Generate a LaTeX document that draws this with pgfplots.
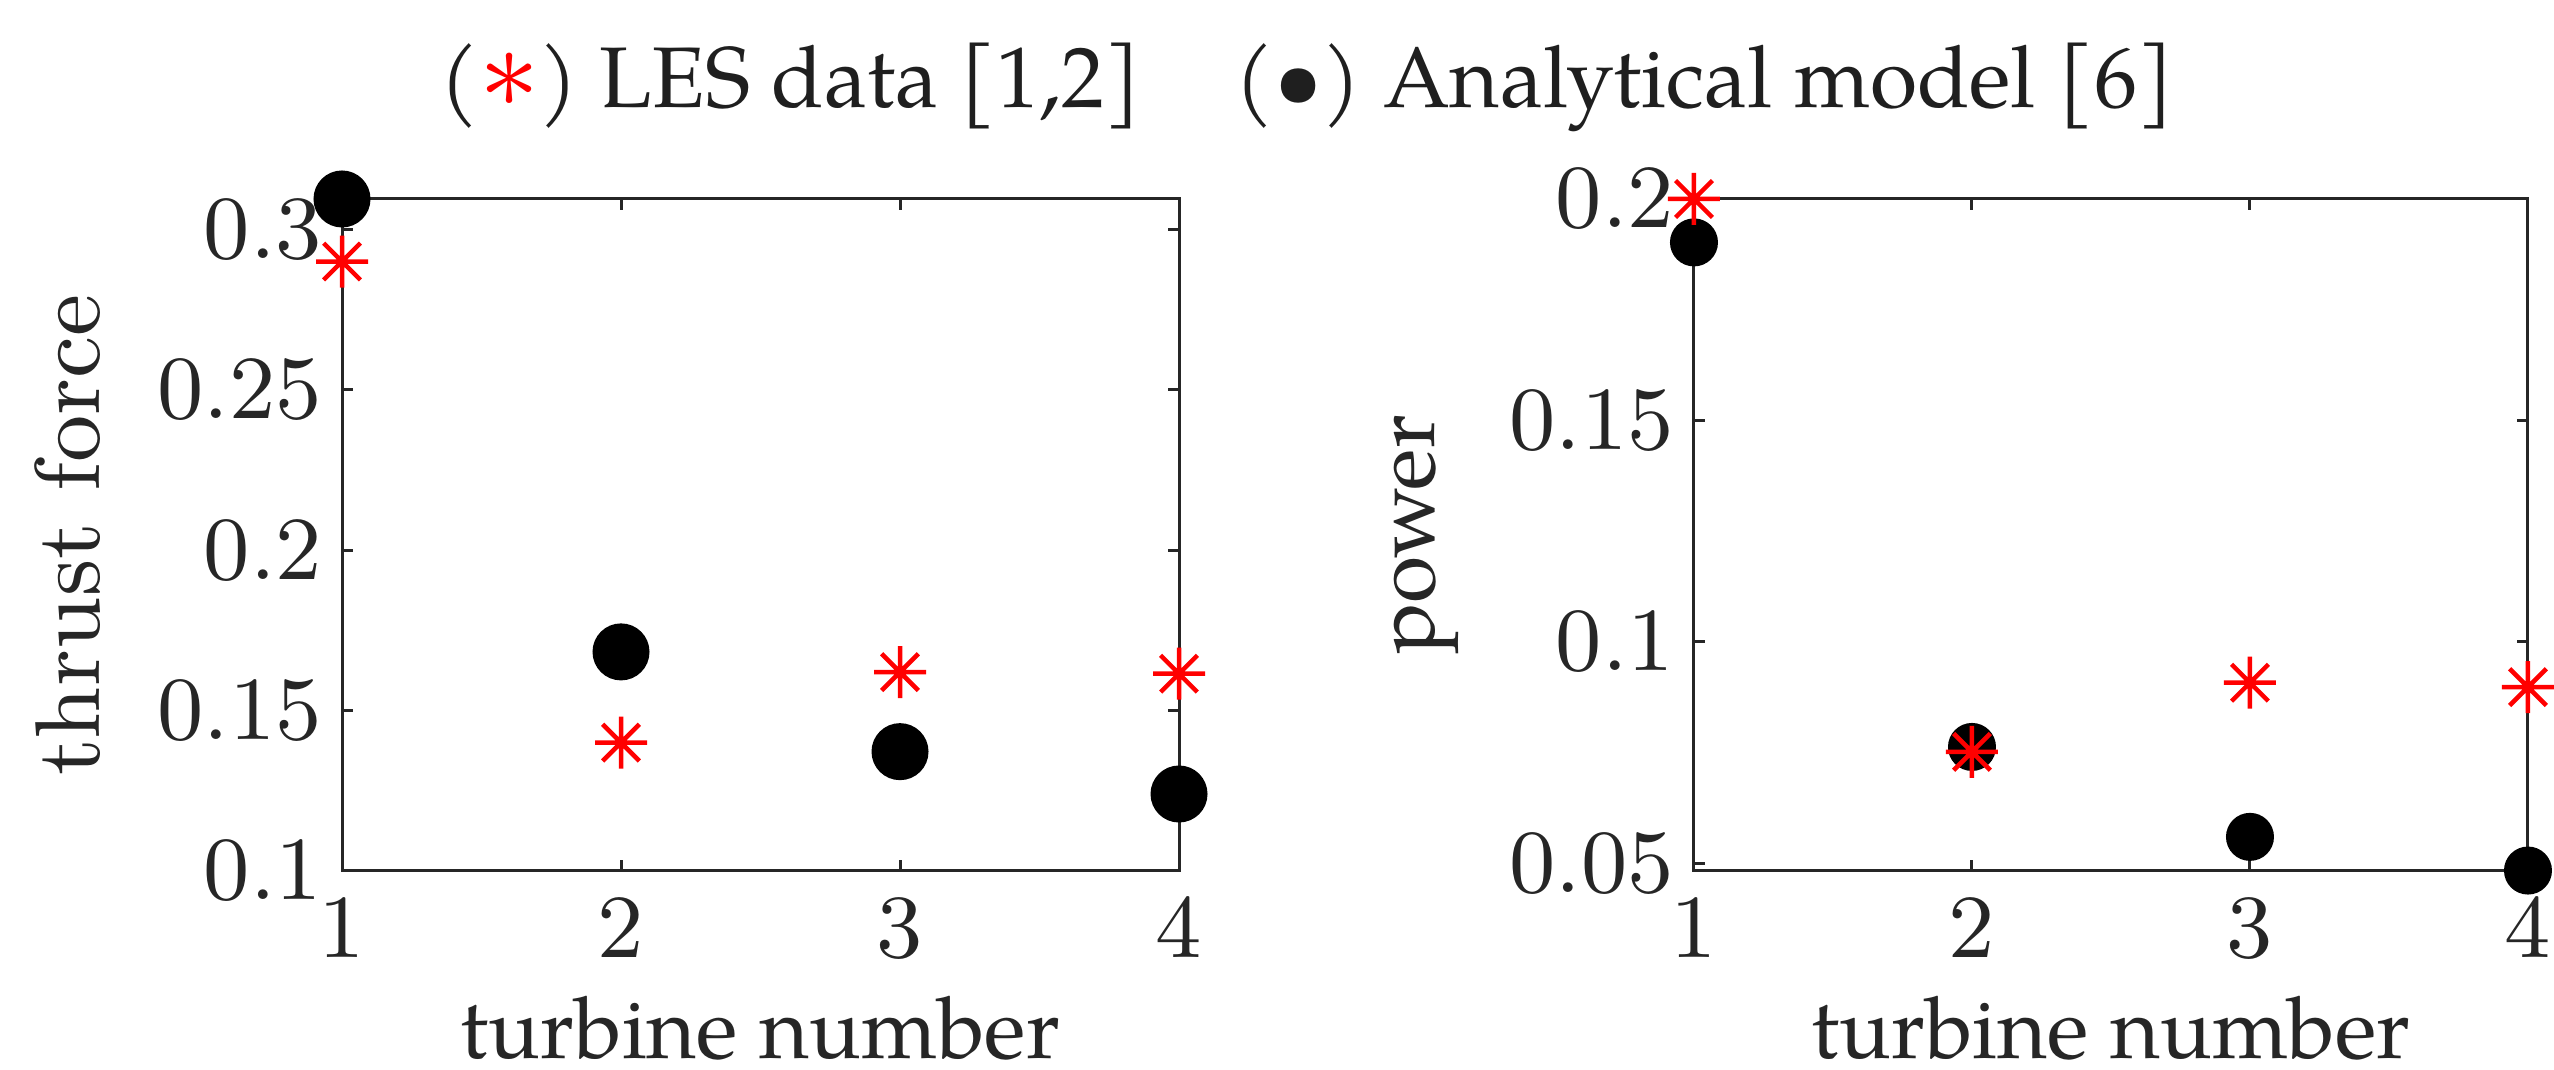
\documentclass[border=0pt]{standalone}
\usepackage{graphicx}
\usepackage{pgfplots}
\pgfplotsset{compat=1.18}
\usepackage{fontspec}
\newfontfamily\pal{TeX Gyre Pagella}
\definecolor{axgray}{HTML}{262626}
\definecolor{mred}{HTML}{FF0000}

% MATLAB-like asterisk: plus and cross overlaid
\pgfdeclareplotmark{mstar}{%
  \pgfpathmoveto{\pgfpoint{-\pgfplotmarksize}{0pt}}%
  \pgfpathlineto{\pgfpoint{\pgfplotmarksize}{0pt}}%
  \pgfpathmoveto{\pgfpoint{0pt}{-\pgfplotmarksize}}%
  \pgfpathlineto{\pgfpoint{0pt}{\pgfplotmarksize}}%
  \pgfpathmoveto{\pgfpoint{-0.7071\pgfplotmarksize}{-0.7071\pgfplotmarksize}}%
  \pgfpathlineto{\pgfpoint{0.7071\pgfplotmarksize}{0.7071\pgfplotmarksize}}%
  \pgfpathmoveto{\pgfpoint{-0.7071\pgfplotmarksize}{0.7071\pgfplotmarksize}}%
  \pgfpathlineto{\pgfpoint{0.7071\pgfplotmarksize}{-0.7071\pgfplotmarksize}}%
  \pgfusepathqstroke}

\pgfplotsset{
  turb/.style={
    scale only axis,
    anchor=south west,
    height=67.2pt,
    xmin=1, xmax=4,
    xtick={1,2,3,4},
    tick align=inside,
    major tick length=1.1pt,
    axis line style={axgray, line width=0.3pt},
    tick style={axgray, line width=0.3pt},
    tick label style={font=\fontsize{9}{10}\selectfont, text=axgray, inner sep=0pt},
    yticklabel style={xshift=-1.8pt},
    xticklabel style={yshift=-2.7pt},
    scaled y ticks=false,
    yticklabel={\pgfmathprintnumber[fixed,precision=2]{\tick}},
    label style={text=axgray, inner sep=0pt},
    clip=false,
  },
  les/.style={only marks, mark=mstar, mark size=2.6pt,
    mark options={draw=mred, line width=0.45pt}},
  model/.style={only marks, mark=*, mark options={fill=black, draw=black}},
}

\begin{document}
\begin{tikzpicture}
\useasboundingbox (0,0) rectangle (255.4pt,107pt);

% thrust force
\begin{axis}[turb,
  at={(34.2pt,19.9pt)}, width=83.7pt,
  ymin=0.1, ymax=0.3095,
  ytick={0.1,0.15,0.2,0.25,0.3},
  xlabel={\pal\fontsize{8.6}{10}\selectfont turbine number},
  xlabel style={at={(axis description cs:0.5,-0.2783)}, anchor=base},
  ylabel={\fontsize{9.2}{10}\selectfont thrust force},
  ylabel style={at={(axis description cs:-0.2903,0.5)}, anchor=base},
]
\addplot[model, mark size=2.65pt] coordinates {
  (1,0.3095) (2,0.1683) (3,0.1372) (4,0.1240)
};
\addplot[les] coordinates {
  (1,0.2900) (2,0.1400) (3,0.1620) (4,0.1615)
};
\end{axis}

% power
\begin{axis}[turb,
  at={(169.4pt,19.9pt)}, width=83.4pt,
  ymin=0.0483, ymax=0.2,
  ytick={0.05,0.1,0.15,0.2},
  xlabel={\pal\fontsize{8.6}{10}\selectfont turbine number},
  xlabel style={at={(axis description cs:0.5,-0.2783)}, anchor=base},
  ylabel={\pal\fontsize{8.6}{10}\selectfont power},
  ylabel style={at={(axis description cs:-0.3106,0.5)}, anchor=base},
]
\addplot[model, mark size=2.2pt] coordinates {
  (1,0.1902) (2,0.0763) (3,0.0560) (4,0.0484)
};
\addplot[les] coordinates {
  (1,0.2000) (2,0.0752) (3,0.0908) (4,0.0898)
};
\end{axis}

% legend line
\node[anchor=base west, inner sep=0pt, font=\pal\fontsize{8.6}{10}\selectfont, text=black!88]
  at (43.8pt,96.2pt) {(\textcolor{mred}{\scalebox{1.3}{$\ast$}}) LES data [1,2]};
\node[anchor=base west, inner sep=0pt, font=\pal\fontsize{8.6}{10}\selectfont, text=black!88]
  at (123.3pt,96.2pt) {(\textbullet) Analytical model [6]};
\end{tikzpicture}
\end{document}
